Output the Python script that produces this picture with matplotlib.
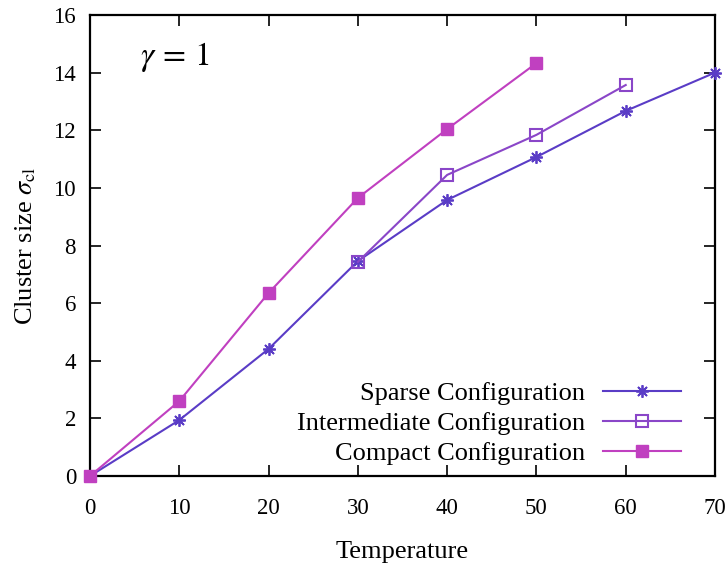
import matplotlib
matplotlib.use("Agg")
import matplotlib.pyplot as plt

# Data
sparse_x = [0, 10, 20, 30, 40, 50, 60, 70]
sparse_y = [0.0, 1.94, 4.41, 7.46, 9.58, 11.07, 12.67, 14.0]
inter_x = [30, 40, 50, 60]
inter_y = [7.43, 10.45, 11.84, 13.57]
compact_x = [0, 10, 20, 30, 40, 50]
compact_y = [0.0, 2.6, 6.35, 9.65, 12.04, 14.33]

labels = ["Sparse Configuration", "Intermediate Configuration", "Compact Configuration"]
xticks = [0, 10, 20, 30, 40, 50, 60, 70]
yticks = [0, 2, 4, 6, 8, 10, 12, 14, 16]

plt.rcParams['font.family'] = ['Liberation Serif', 'DejaVu Serif']
plt.rcParams['mathtext.fontset'] = 'stix'

fig = plt.figure(figsize=(7.28, 5.67), dpi=100)
ax = fig.add_axes([90/728, 91/567, 625/728, 461/567])

c_sparse = '#5a3cc6'
c_inter = '#8a46c8'
c_compact = '#c040c0'

ax.plot(sparse_x, sparse_y, color=c_sparse, lw=1.5, marker=(8, 2, 0), ms=9, mew=1.3,
        label=labels[0], clip_on=False, zorder=3)
ax.plot(inter_x, inter_y, color=c_inter, lw=1.5, marker='s', ms=8, mfc='none', mew=1.5,
        label=labels[1], clip_on=False, zorder=3)
ax.plot(compact_x, compact_y, color=c_compact, lw=1.5, marker='s', ms=8,
        label=labels[2], clip_on=False, zorder=4)

ax.set_xlim(0, 70)
ax.set_ylim(0, 16)
ax.set_xticks(xticks)
ax.set_yticks(yticks)
ax.tick_params(direction='in', length=8, width=1.2, top=True, right=True,
               labelsize=16.5, colors='black')
ax.tick_params(axis='x', pad=16)
ax.tick_params(axis='y', pad=10)
for s in ax.spines.values():
    s.set_linewidth(1.6)

ax.set_xlabel("Temperature", fontsize=19, labelpad=16)
ax.set_ylabel(r"Cluster size $\sigma_{\rm cl}$", fontsize=19, labelpad=11)

ax.text(5.6, 14.55, r"$\gamma \,=\, 1$", fontsize=24, va='center', ha='left')

leg = ax.legend(loc='lower right', bbox_to_anchor=(0.9456, 0.024), frameon=False,
                markerfirst=False, fontsize=19, handlelength=2.95, handletextpad=0.68,
                labelspacing=0.24, borderaxespad=0.0, borderpad=0.0)
for t in leg.get_texts():
    t.set_ha('right')
leg._legend_box.align = 'right'

fig.savefig("out.png", dpi=100)
